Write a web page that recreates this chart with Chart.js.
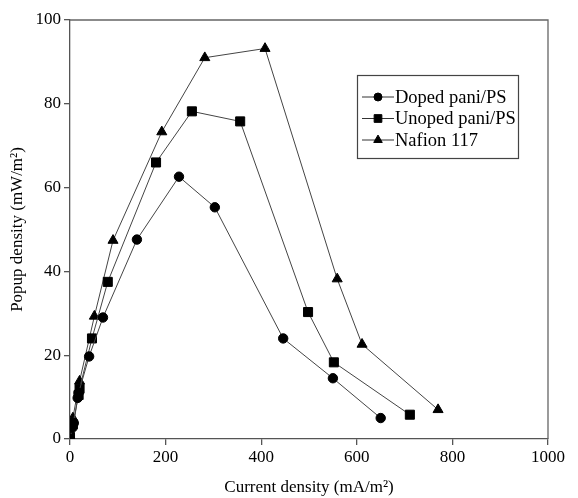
<!DOCTYPE html>
<html><head><meta charset="utf-8">
<script src="https://cdn.jsdelivr.net/npm/chart.js@4/dist/chart.umd.min.js"></script>
<style>html,body{margin:0;padding:0;background:#fff}#wrap{width:578px;height:498px}</style>
</head><body><div id="wrap"><canvas id="c" width="578" height="498"></canvas></div>
<script>
const seriesNames = ["Doped pani/PS", "Unoped pani/PS", "Nafion 117"];
const dopedX = [0, 5, 8, 16, 18, 40, 69, 140, 228, 303, 446, 550, 650];
const dopedY = [0, 2.7, 3.8, 9.8, 11, 19.7, 29, 47.6, 62.6, 55.3, 24, 14.5, 5];
const unopedX = [0, 6, 18, 20, 46, 79, 180, 255, 356, 498, 552, 711];
const unopedY = [0.5, 3.5, 10.5, 12, 24, 37.5, 66, 78.2, 75.8, 30.3, 18.3, 5.8];
const nafionX = [0, 6, 20, 51, 90, 192, 282, 408, 559, 611, 770];
const nafionY = [0, 5, 13.8, 29.3, 47.4, 73.3, 91, 93.2, 38.2, 22.6, 7];
const xTicks = [0, 200, 400, 600, 800, 1000];
const yTicks = [0, 20, 40, 60, 80, 100];

const pts = (xs, ys) => xs.map((x, i) => ({x: x, y: ys[i]}));
const styles = ['circle', 'rect', 'triangle'];
const radii = [4.7, 6.4, 5.8];
const FONT = '"Liberation Serif", "Times New Roman", serif';

const frameLegend = {
  id: 'frameLegend',
  afterDraw(chart) {
    const {ctx, chartArea: a} = chart;
    ctx.save();
    ctx.strokeStyle = '#666';
    ctx.lineWidth = 1.3;
    ctx.beginPath();
    ctx.moveTo(a.left, a.top); ctx.lineTo(a.right, a.top); ctx.lineTo(a.right, a.bottom);
    ctx.stroke();
    // legend box
    const bx = 357, by = 75, bw = 161, bh = 83;
    ctx.strokeStyle = '#444';
    ctx.lineWidth = 1.2;
    ctx.strokeRect(bx + 0.5, by + 0.5, bw, bh);
    ctx.font = '18.5px ' + FONT;
    ctx.textBaseline = 'middle';
    chart.data.datasets.forEach((ds, i) => {
      const y = 97 + i * 21.5;
      ctx.strokeStyle = '#333'; ctx.lineWidth = 1;
      ctx.beginPath(); ctx.moveTo(362, y); ctx.lineTo(394, y); ctx.stroke();
      ctx.fillStyle = '#000'; ctx.strokeStyle = '#000';
      Chart.helpers.drawPoint(ctx, {pointStyle: styles[i], radius: radii[i] * 0.85, borderWidth: 1, rotation: 0}, 378, y);
      ctx.fillStyle = '#000';
      ctx.fillText(ds.label, 395, y + 1);
    });
    ctx.restore();
  }
};

const mk = (i, xs, ys) => ({
  label: seriesNames[i], data: pts(xs, ys), showLine: true,
  borderColor: '#444', borderWidth: 1, pointStyle: styles[i], pointRadius: radii[i],
  pointBackgroundColor: '#000', pointBorderColor: '#000', pointBorderWidth: 1
});

new Chart(document.getElementById('c'), {
  type: 'scatter',
  data: {datasets: [mk(0, dopedX, dopedY), mk(1, unopedX, unopedY), mk(2, nafionX, nafionY)]},
  options: {
    responsive: false, animation: false,
    layout: {padding: {top: 20, right: 30, left: 7, bottom: 0}},
    plugins: {legend: {display: false}, tooltip: {enabled: false}},
    scales: {
      x: {
        type: 'linear', min: 0, max: 1000,
        afterBuildTicks: s => { s.ticks = xTicks.map(v => ({value: v})); },
        afterFit: s => { s.height = 59; },
        grid: {display: true, drawOnChartArea: false, drawTicks: true, tickLength: 6, color: '#555', lineWidth: 1.3},
        border: {display: true, color: '#555', width: 1.3},
        ticks: {color: '#000', font: {family: FONT, size: 17}, padding: 2, maxRotation: 0, callback: v => String(v)},
        title: {display: true, text: 'Current density (mA/m²)', color: '#000', font: {family: FONT, size: 17}, padding: {top: 2, bottom: 0}}
      },
      y: {
        type: 'linear', min: 0, max: 100,
        afterBuildTicks: s => { s.ticks = yTicks.map(v => ({value: v})); },
        afterFit: s => { s.width = 63; },
        grid: {display: true, drawOnChartArea: false, drawTicks: true, tickLength: 6, color: '#555', lineWidth: 1.3},
        border: {display: true, color: '#555', width: 1.3},
        ticks: {color: '#000', font: {family: FONT, size: 17}, padding: 3, callback: v => String(v)},
        title: {display: true, text: 'Popup density (mW/m²)', color: '#000', font: {family: FONT, size: 17}, padding: {top: 0, bottom: 4}}
      }
    }
  },
  plugins: [frameLegend]
});
</script></body></html>
